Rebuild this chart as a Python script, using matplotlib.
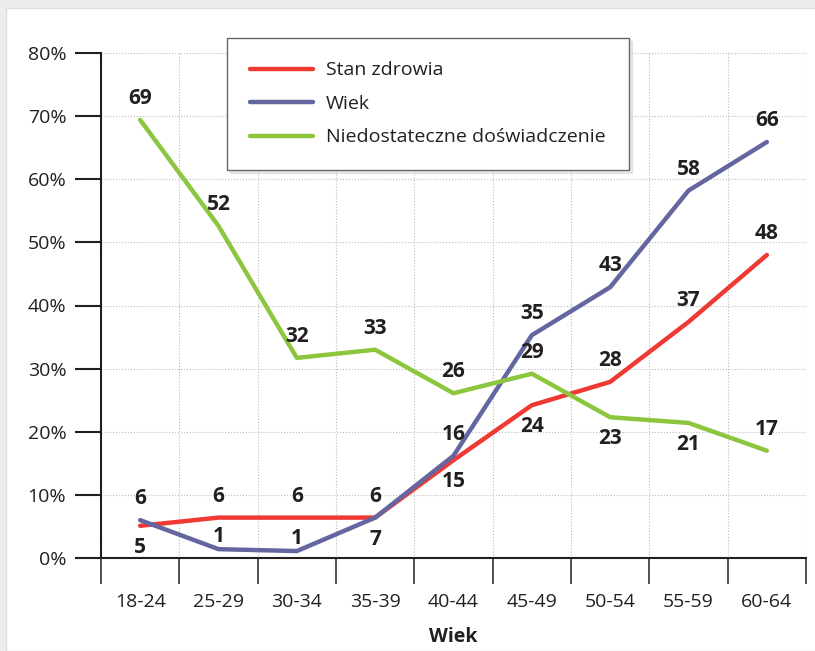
import matplotlib
matplotlib.use("Agg")
import matplotlib.pyplot as plt
import numpy as np
from matplotlib.patches import Rectangle

plt.rcParams['font.family'] = ['Open Sans', 'DejaVu Sans']

# data (percent)
categories = ['18-24', '25-29', '30-34', '35-39', '40-44', '45-49', '50-54', '55-59', '60-64']
stan_zdrowia = [5.1, 6.4, 6.4, 6.4, 15.5, 24.2, 27.9, 37.4, 48.0]
wiek = [6.0, 1.4, 1.1, 6.4, 16.2, 35.3, 42.9, 58.2, 65.9]
doswiadczenie = [69.4, 52.6, 31.7, 33.0, 26.1, 29.2, 22.3, 21.4, 17.0]

# printed labels
lab_zdrowie = [5, 6, 6, 6, 15, 24, 28, 37, 48]
lab_wiek = [6, 1, 1, 7, 16, 35, 43, 58, 66]
lab_dosw = [69, 52, 32, 33, 26, 29, 23, 21, 17]

# where the label sits: 1 above the point, -1 below, 0.6 just above
pos_zdrowie = [-1, 1, 1, 1, -1, -1, 1, 1, 1]
pos_wiek = [1, 0.6, 0.6, -1, 1, 1, 1, 1, 1]
pos_dosw = [1, 1, 1, 1, 1, 1, -1, -1, 1]

red = '#ee3a32'
blue = '#6466a0'
green = '#8cc63f'
dark = '#231f20'

fig = plt.figure(figsize=(8.15, 6.51), dpi=100)
fig.patch.set_facecolor('#ececec')
# white panel behind the chart
fig.patches.append(Rectangle((6 / 815, 0), 1, 1 - 8 / 651, transform=fig.transFigure,
                             facecolor='white', edgecolor='#dddddd', lw=1, zorder=-10))

ax = fig.add_axes([101 / 815, 93 / 651, 705 / 815, 505 / 651])
ax.set_facecolor('none')
x = np.arange(len(categories))

series = [
    (stan_zdrowia, lab_zdrowie, pos_zdrowie, red, 'Stan zdrowia'),
    (wiek, lab_wiek, pos_wiek, blue, 'Wiek'),
    (doswiadczenie, lab_dosw, pos_dosw, green, 'Niedostateczne doświadczenie'),
]
for vals, labs, poss, col, name in series:
    ax.plot(x, vals, color=col, lw=3.2, label=name, solid_capstyle='round', zorder=3)
    for xi, v, l, p in zip(x, vals, labs, poss):
        ax.annotate(str(l), (xi, v), xytext=(0, 15.5 * p), textcoords='offset points',
                    ha='center', va='center', fontsize=15, fontweight='bold', color=dark)

ax.set_xlim(-0.5, len(categories) - 0.5)
ax.set_ylim(0, 80)

# ticks at category boundaries, labels at centres
ax.set_xticks(np.arange(-0.5, len(categories), 1))
ax.set_xticklabels([])
ax.set_xticks(x, minor=True)
ax.set_xticklabels(categories, minor=True)
ax.tick_params(axis='x', which='major', direction='out', length=19, width=1.2, color='#333333')
ax.tick_params(axis='x', which='minor', length=0, pad=25, labelsize=14, labelcolor=dark)

ax.set_yticks(np.arange(0, 81, 10))
ax.set_yticklabels([f'{v}%' for v in range(0, 81, 10)])
ax.tick_params(axis='y', direction='out', length=19, width=1.5, color=dark,
               labelsize=14, labelcolor=dark, pad=6)

ax.grid(True, which='major', color='#bbbbbb', linestyle=':', linewidth=0.8)
ax.set_axisbelow(True)

for s in ['top', 'right']:
    ax.spines[s].set_visible(False)
ax.spines['left'].set_linewidth(1.5)
ax.spines['left'].set_color(dark)
ax.spines['bottom'].set_linewidth(1.5)
ax.spines['bottom'].set_color(dark)

ax.set_xlabel('Wiek', fontsize=14, fontweight='bold', color=dark, labelpad=12)

leg = fig.legend(loc='upper left', bbox_to_anchor=(227 / 815, 1 - 38 / 651), borderaxespad=0,
                 fancybox=False, frameon=True, edgecolor='#666666', fontsize=14,
                 handlelength=3.2, handletextpad=0.7, labelspacing=0.8,
                 borderpad=1.2, shadow={'color': '0.85', 'alpha': 0.6})
leg.get_frame().set_linewidth(1.0)
leg.set_zorder(5)
for t in leg.get_texts():
    t.set_color(dark)

fig.savefig('out.png', dpi=100, facecolor=fig.get_facecolor())
